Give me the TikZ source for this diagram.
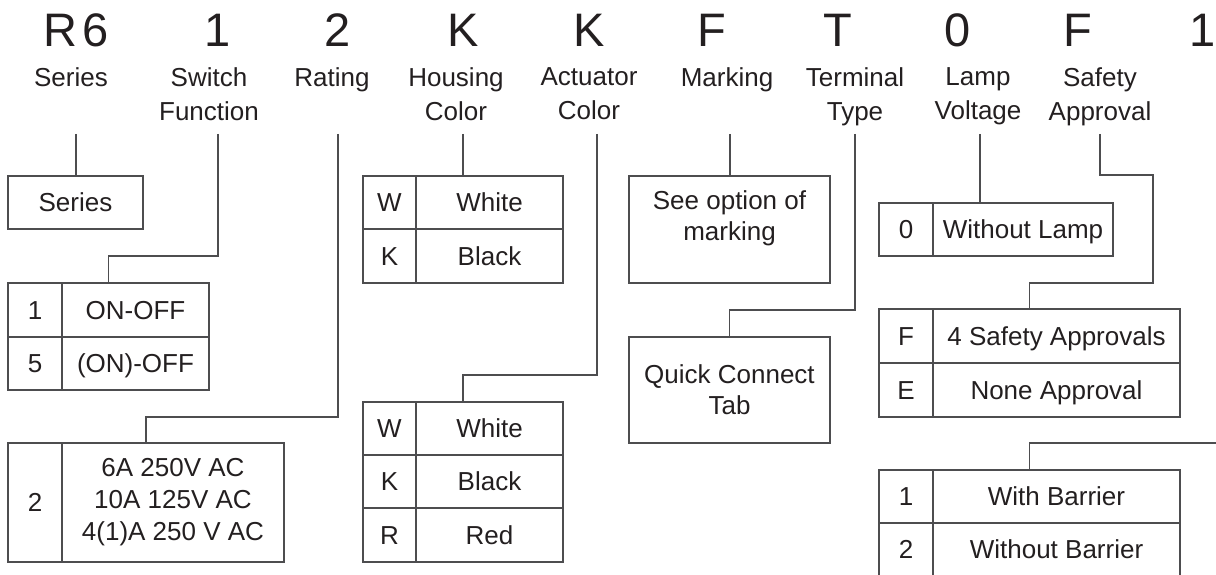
\documentclass[tikz,border=0pt]{standalone}
\usepackage{fontspec}
\setmainfont{Liberation Sans}
\usetikzlibrary{positioning,calc}
\definecolor{ink}{HTML}{231F20}
\definecolor{rule}{HTML}{4D4D4F}

\tikzset{
  codech/.style={font=\fontsize{47}{47}\selectfont, text=ink, inner sep=0pt, anchor=base},
  lbltext/.style={font=\fontsize{26}{34}\selectfont, text=ink, align=center, inner sep=0pt, anchor=north},
  ratcell/.style={draw=rule, line width=1.2pt, font=\fontsize{26}{32}\selectfont, text=ink, align=center,
    inner sep=0pt, outer sep=0pt, minimum height=53pt},
  optcell/.style={ratcell, text height=18.6pt, text depth=0pt},
  link/.style={draw=rule, line width=1.2pt},
}

\begin{document}
\begin{tikzpicture}[x=1pt,y=1pt]
  \useasboundingbox (0,0) rectangle (1216,-575);
  \clip (0,0) rectangle (1216,-575);

  % part number
  \node[codech] (cse) at (76,-47) {R\kern5pt6};
  \node[codech] (csw) at (218,-47) {1};
  \node[codech] (cra) at (338,-47) {2};
  \node[codech] (chc) at (463,-47) {K};
  \node[codech] (cac) at (589,-47) {K};
  \node[codech] (cmk) at (712,-47) {F};
  \node[codech] (ctt) at (838,-47) {T};
  \node[codech] (clv) at (958,-47) {0};
  \node[codech] (csa) at (1078,-47) {F};
  \node[codech] (cba) at (1203,-47) {1};

  % captions
  \node[lbltext] (lse) at (71,-67) {Series};
  \node[lbltext] (lsw) at (209,-67) {Switch\\Function};
  \node[lbltext] (lra) at (332,-67) {Rating};
  \node[lbltext] (lhc) at (456,-67) {Housing\\Color};
  \node[lbltext] (lac) at (589,-67) {Actuator\\Color};
  \node[lbltext] (lmk) at (727,-67) {Marking};
  \node[lbltext] (ltt) at (855,-67) {Terminal\\Type};
  \node[lbltext] (llv) at (978,-67) {Lamp\\Voltage};
  \node[lbltext] (lsa) at (1100,-67) {Safety\\Approval};

  % option tables
  \node[optcell, minimum width=135pt, anchor=north west] (serbox) at (8,-176) {Series};

  \node[optcell, minimum width=54pt, minimum height=54pt, anchor=north west] (sw1k) at (8,-283) {1};
  \node[optcell, minimum width=147pt, minimum height=54pt, right=0pt of sw1k] (sw1v) {ON-OFF};
  \node[optcell, minimum width=54pt, below=0pt of sw1k] (sw5k) {5};
  \node[optcell, minimum width=147pt, right=0pt of sw5k] (sw5v) {(ON)-OFF};

  \node[optcell, minimum width=54pt, minimum height=119pt, anchor=north west] (ra2k) at (8,-443) {2};
  \node[ratcell, minimum width=222pt, minimum height=119pt, right=0pt of ra2k] (ra2v)
    {6A 250V AC\\10A 125V AC\\4(1)A 250 V AC};

  \node[optcell, minimum width=53pt, anchor=north west] (hcWk) at (363,-176) {W};
  \node[optcell, minimum width=147pt, right=0pt of hcWk] (hcWv) {White};
  \node[optcell, minimum width=53pt, minimum height=54pt, below=0pt of hcWk] (hcKk) {K};
  \node[optcell, minimum width=147pt, minimum height=54pt, right=0pt of hcKk] (hcKv) {Black};

  \node[optcell, minimum width=53pt, anchor=north west] (acWk) at (363,-402) {W};
  \node[optcell, minimum width=147pt, right=0pt of acWk] (acWv) {White};
  \node[optcell, minimum width=53pt, below=0pt of acWk] (acKk) {K};
  \node[optcell, minimum width=147pt, right=0pt of acKk] (acKv) {Black};
  \node[optcell, minimum width=53pt, minimum height=54pt, below=0pt of acKk] (acRk) {R};
  \node[optcell, minimum width=147pt, minimum height=54pt, right=0pt of acRk] (acRv) {Red};

  \node[optcell, minimum width=201pt, minimum height=107pt, anchor=north west] (mkbox) at (629,-176) {};
  \node[lbltext, font=\fontsize{26}{31}\selectfont] (mktext) at ($(mkbox.north)+(0,-14)$) {See option of\\marking};

  \node[ratcell, minimum width=201pt, minimum height=106pt, anchor=north west,
    font=\fontsize{26}{31}\selectfont] (qcbox) at (629,-337) {Quick Connect\\Tab};

  \node[optcell, minimum width=54pt, anchor=north west] (lv0k) at (879,-203) {0};
  \node[optcell, minimum width=180pt, right=0pt of lv0k] (lv0v) {Without Lamp};

  \node[optcell, minimum width=54pt, minimum height=54pt, anchor=north west] (saFk) at (879,-309) {F};
  \node[optcell, minimum width=247pt, minimum height=54pt, right=0pt of saFk] (saFv) {4 Safety Approvals};
  \node[optcell, minimum width=54pt, minimum height=54pt, below=0pt of saFk] (saEk) {E};
  \node[optcell, minimum width=247pt, minimum height=54pt, right=0pt of saEk] (saEv) {None Approval};

  \node[optcell, minimum width=54pt, anchor=north west] (ba1k) at (879,-470) {1};
  \node[optcell, minimum width=247pt, right=0pt of ba1k] (ba1v) {With Barrier};
  \node[optcell, minimum width=54pt, below=0pt of ba1k] (ba2k) {2};
  \node[optcell, minimum width=247pt, right=0pt of ba2k] (ba2v) {Without Barrier};

  % leader lines
  \coordinate (setop) at (76,-134);
  \coordinate (swtop) at (218,-134);
  \coordinate (ratop) at (338,-134);
  \coordinate (hctop) at (463,-134);
  \coordinate (actop) at (597,-134);
  \coordinate (mktop) at (730,-134);
  \coordinate (tttop) at (855,-134);
  \coordinate (lvtop) at (980,-134);
  \coordinate (satop) at (1100,-134);
  \coordinate (batop) at (1220,-443);
  \coordinate (swin) at ($(sw1k.north west)!.5!(sw1v.north east)$);
  \coordinate (rain) at ($(ra2k.north west)!.5!(ra2v.north east)$);
  \coordinate (acin) at ($(acWk.north west)!.5!(acWv.north east)$);
  \coordinate (sain) at ($(saFk.north west)!.5!(saFv.north east)$);
  \coordinate (bain) at ($(ba1k.north west)!.5!(ba1v.north east)$);

  \draw[link] (setop) -- (setop |- serbox.north);
  \draw[link] (swtop) -- ++(0,-122) -| (swin);
  \draw[link] (ratop) -- ++(0,-283) -| (rain);
  \draw[link] (hctop) -- (hctop |- hcWk.north);
  \draw[link] (actop) -- ++(0,-241) -| (acin);
  \draw[link] (mktop) -- (mktop |- mkbox.north);
  \draw[link] (tttop) -- ++(0,-176) -| (qcbox.north);
  \draw[link] (lvtop) -- (lvtop |- lv0k.north);
  \draw[link] (satop) -- ++(0,-41) -- ++(53,0) -- ++(0,-108) -| (sain);
  \draw[link] (batop) -| (bain);
\end{tikzpicture}
\end{document}
